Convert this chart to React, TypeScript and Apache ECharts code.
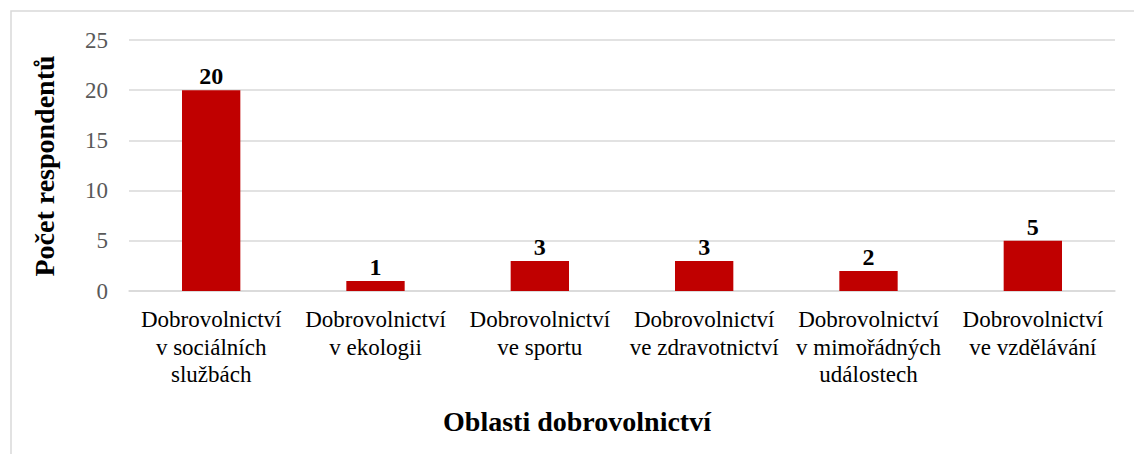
import React, { useEffect, useRef } from "react";
import * as echarts from "echarts";

const categories = [
  "Dobrovolnictví\nv sociálních\nslužbách",
  "Dobrovolnictví\nv ekologii",
  "Dobrovolnictví\nve sportu",
  "Dobrovolnictví\nve zdravotnictví",
  "Dobrovolnictví\nv mimořádných\nudálostech",
  "Dobrovolnictví\nve vzdělávání",
];
const values = [20, 1, 3, 3, 2, 5];
const yTitle = "Počet respondentů";
const xTitle = "Oblasti dobrovolnictví";

const FONT = "Liberation Serif";

export default function App() {
  const ref = useRef<HTMLDivElement>(null);
  useEffect(() => {
    const chart = echarts.init(ref.current!, null, { renderer: "svg" });
    chart.setOption({
      animation: false,
      backgroundColor: "#ffffff",
      textStyle: { fontFamily: FONT },
      graphic: [
        {
          type: "rect",
          shape: { x: 11, y: 11, width: 1140, height: 460 },
          style: { fill: "none", stroke: "#d9d9d9", lineWidth: 1.5 },
          silent: true,
        },
        {
          type: "text",
          x: 577,
          y: 421,
          style: {
            text: xTitle,
            font: `bold 28px ${FONT}`,
            fill: "#000",
            align: "center",
            verticalAlign: "middle",
          },
        },
        {
          type: "text",
          x: 44,
          y: 166,
          rotation: Math.PI / 2,
          style: {
            text: yTitle,
            font: `bold 28px ${FONT}`,
            fill: "#000",
            align: "center",
            verticalAlign: "middle",
          },
        },
      ],
      grid: { left: 129, right: 19, top: 40, bottom: 163 },
      xAxis: {
        type: "category",
        data: categories,
        axisLine: { show: true, lineStyle: { color: "#d9d9d9", width: 1.5 } },
        axisTick: { show: false },
        axisLabel: {
          interval: 0,
          margin: 15,
          color: "#000",
          fontFamily: FONT,
          fontSize: 23,
          lineHeight: 27.5,
        },
      },
      yAxis: {
        type: "value",
        min: 0,
        max: 25,
        interval: 5,
        axisLine: { show: false },
        axisTick: { show: false },
        splitLine: { lineStyle: { color: "#d9d9d9", width: 1.5 } },
        axisLabel: {
          margin: 21,
          color: "#595959",
          fontFamily: FONT,
          fontSize: 23,
        },
      },
      series: [
        {
          type: "bar",
          data: values,
          barWidth: "35.5%",
          itemStyle: { color: "#c00000" },
          label: {
            show: true,
            position: "top",
            color: "#000",
            fontFamily: FONT,
            fontWeight: "bold",
            fontSize: 24,
            distance: 2,
          },
        },
      ],
    });
    return () => chart.dispose();
  }, []);
  return (
    <div
      ref={ref}
      style={{ position: "fixed", left: 0, top: 0, width: 1134, height: 454 }}
    />
  );
}
